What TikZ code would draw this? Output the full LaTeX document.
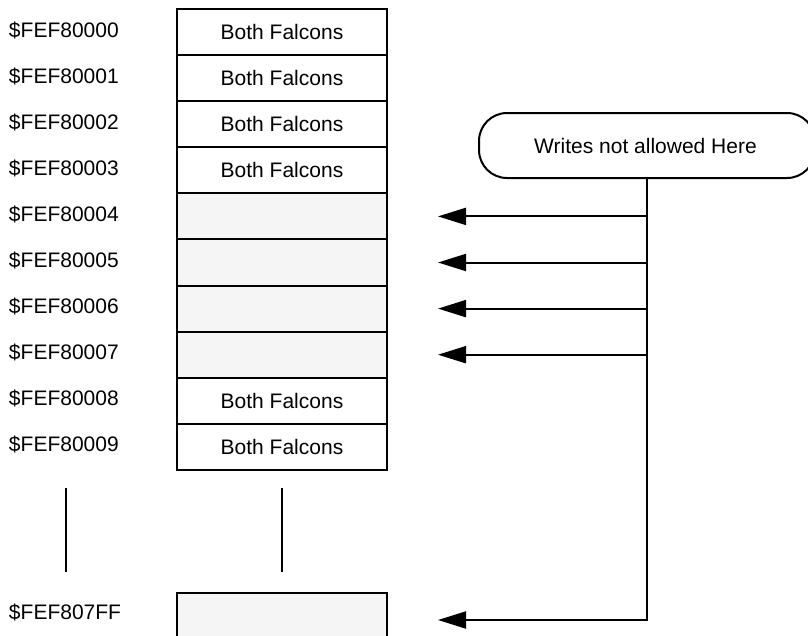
\documentclass[tikz,border=0pt]{standalone}
\usepackage{fontspec}
\setmainfont{Liberation Sans}
\usetikzlibrary{arrows.meta,positioning}
\definecolor{memgray}{RGB}{245,245,245}
\begin{document}
\begin{tikzpicture}[x=1pt,y=-1pt,line width=2pt,font=\fontsize{21}{25}\selectfont,
  cell/.style={draw,minimum width=210pt,minimum height=46.1pt,inner sep=0pt},
  blank/.style={cell,fill=memgray},
  addr/.style={anchor=west,inner sep=0pt},
  >={Triangle[length=28pt,width=17pt]}]
  \useasboundingbox (0,0) rectangle (808,635);
  % memory cells
  \foreach \i in {0,1,2,3,8,9}
    \node[cell] (row\i) at (282,32+46.1*\i) {Both Falcons};
  \foreach \i in {4,...,7}
    \node[blank] (row\i) at (282,32+46.1*\i) {};
  \node[blank] (rowN) at (282,616) {};
  % addresses
  \foreach \i in {0,...,9}
    \node[addr] (lab\i) at (8,30+46.1*\i) {\$FEF8000\i};
  \node[addr] (labN) at (8,612) {\$FEF807FF};
  \draw (66,488) -- (66,572) (282,488) -- (282,572);
  % note and arrows
  \node[draw,rounded corners=28pt,minimum width=336pt,minimum height=65pt] (note) at (647,145.5) {};
  \node at (645.5,145.5) {Writes not allowed Here};
  \foreach \i in {4,...,7}{
    \coordinate (tip\i) at ([xshift=50pt]row\i.east);
    \draw[->] (note.south |- tip\i) -- (tip\i);
  }
  \coordinate (tipN) at ([xshift=50pt,yshift=-4pt]rowN.east);
  \draw[->] (note.south) |- (tipN);
\end{tikzpicture}
\end{document}
